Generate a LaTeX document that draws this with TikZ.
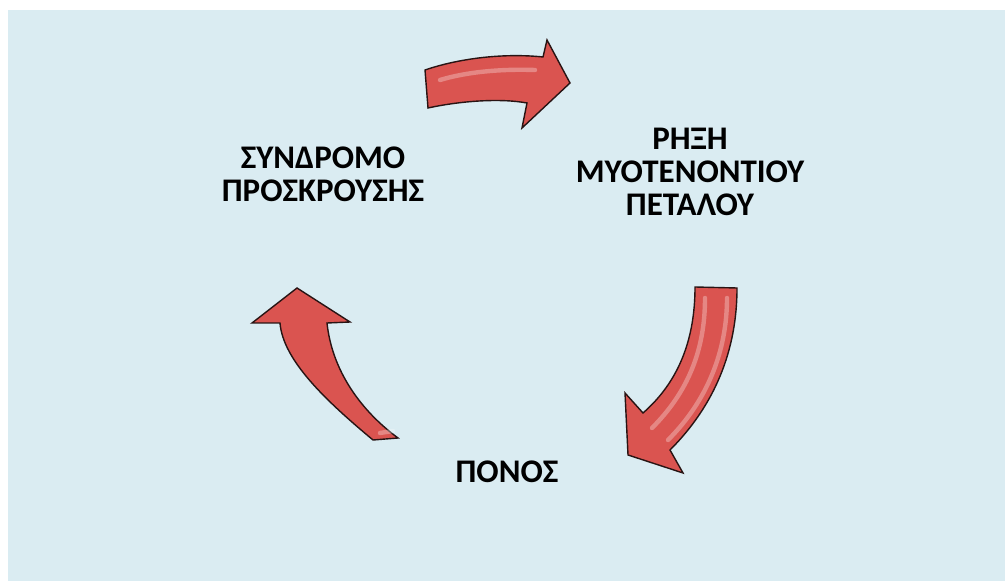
\documentclass[tikz,border=0pt]{standalone}
\usepackage{fontspec}
\setmainfont{Carlito}
\usepackage{xcolor}
\definecolor{BgBlue}{RGB}{218,236,242}
\definecolor{ArrowRed}{RGB}{218,84,80}
\definecolor{EdgeDark}{RGB}{40,20,20}

\tikzset{
  arrowbody/.style={fill=ArrowRed, draw=EdgeDark, line width=0.7pt, line join=miter},
  hilite/.style={white, opacity=0.3, line width=2.2pt, line cap=round},
  label/.style={font=\fontsize{16.5}{16.5}\selectfont\bfseries, align=center, inner sep=0pt}
}

\begin{document}
\begin{tikzpicture}[x=0.5pt, y=-0.5pt]

  % --- Page and panel ---
  \useasboundingbox (0,0) rectangle (1005,581);
  \fill[white] (0,0) rectangle (1005,581);
  \fill[BgBlue] (8,10) rectangle (1005,581);

  % --- Labels ---
  \node[label] (syndromo) at (323,174) {ΣΥΝΔΡΟΜΟ\\ΠΡΟΣΚΡΟΥΣΗΣ};
  \node[label] (rixi)     at (690,172) {ΡΗΞΗ\\ΜΥΟΤΕΝΟΝΤΙΟΥ\\ΠΕΤΑΛΟΥ};
  \node[label] (ponos)    at (507,472) {ΠΟΝΟΣ};

  % --- Top arrow: syndromo -> rixi ---
  \draw[arrowbody] (425,70) .. controls (460,58) and (505,53) .. (543,57)
    -- (547,40) -- (570,83) -- (522,128) -- (527,103)
    .. controls (500,98) and (460,101) .. (428,108) -- cycle;
  \draw[hilite] (440,80) .. controls (470,71) and (505,69) .. (535,70);

  % --- Right arrow: rixi -> ponos ---
  \draw[arrowbody] (695,287) .. controls (695,345) and (675,385) .. (643,413)
    -- (625,393) -- (628,455) -- (683,473) -- (670,450)
    .. controls (715,405) and (737,350) .. (737,288) -- cycle;
  \draw[hilite] (705,298) .. controls (705,350) and (688,392) .. (652,428);
  \draw[hilite] (727,298) .. controls (727,350) and (708,400) .. (668,440);

  % --- Left arrow: ponos -> syndromo ---
  \draw[arrowbody] (373,440) .. controls (325,400) and (283,360) .. (280,323)
    -- (252,323) -- (297,288) -- (350,322) -- (327,323)
    .. controls (332,370) and (360,410) .. (398,438) -- cycle;
  \draw[hilite] (380,433) -- (393,431);

\end{tikzpicture}
\end{document}
